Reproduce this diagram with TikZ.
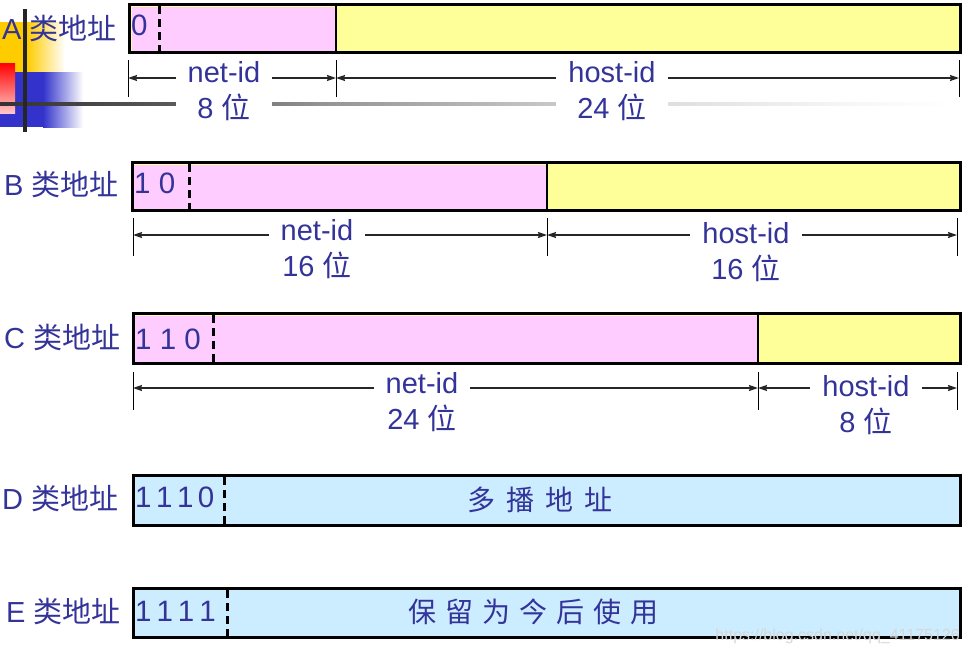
\documentclass[tikz,border=0pt]{standalone}
\usepackage{fontspec}
\setmainfont{Liberation Sans}
\newfontfamily\cjk{Noto Sans CJK SC}
\usetikzlibrary{arrows.meta}
\definecolor{tc}{RGB}{51,51,153}
\definecolor{pinkf}{RGB}{255,204,255}
\definecolor{yellf}{RGB}{255,255,153}
\definecolor{bluef}{RGB}{204,236,255}
\definecolor{gold}{RGB}{255,204,0}
\definecolor{deco}{RGB}{51,51,204}
\definecolor{wm}{RGB}{215,215,215}
\pgfdeclarehorizontalshading{grayfade}{100bp}{color(0bp)=(black!80); color(25bp)=(black!80); color(34bp)=(black!65); color(42bp)=(black!42); color(54bp)=(black!22); color(60bp)=(black!13); color(69bp)=(black!4); color(75bp)=(white); color(100bp)=(white)}
\tikzset{
  frame/.style={draw=black, line width=3pt},
  splitline/.style={draw=black, line width=1.8pt},
  dashline/.style={draw=black, line width=3pt, dash pattern=on 8pt off 5pt},
  tickline/.style={draw=black, line width=1pt},
  dimline/.style={draw=black!85, line width=1.5pt, {Stealth[length=9pt,width=6pt,inset=1pt]}-{Stealth[length=9pt,width=6pt,inset=1pt]}},
  dimtxt/.style={fill=white, inner xsep=12pt, inner ysep=1pt, align=center, anchor=base, text=tc, font=\fontsize{29}{36}\selectfont},
  lbl/.style={anchor=base west, inner sep=0pt, text=tc, font=\fontsize{29}{35}\selectfont},
  boxtxt/.style={anchor=base west, inner sep=0pt, text=tc, font=\fontsize{29.5}{35}\selectfont},
  cjktxt/.style={anchor=center, inner sep=0pt, text=tc, font=\fontsize{28}{34}\selectfont\cjk}
}
\begin{document}
\begin{tikzpicture}[x=1pt,y=-1pt]
\useasboundingbox (0,0) rectangle (971,654);
% ---- slide decoration ----
\fill[gold] (0,22) rectangle (27,72);
\shade[left color=gold, right color=white] (27,22) rectangle (65,72);
\fill[deco] (0,72) rectangle (43,127);
\shade[left color=deco, right color=white] (43,72) rectangle (83,127);
\shade[top color=red, bottom color=red!22] (0,63) rectangle (15,113);
\shade[shading=grayfade] (0,102.3) rectangle (950,105.8);
\fill[black!85] (23.3,9) rectangle (26.7,132);
% ---- Row A ----
\fill[yellf] (129.5,4.5) rectangle (960.5,52.5);
\fill[pinkf] (131.5,6.5) rectangle (336,50.5);
\draw[splitline] (336,4.5) -- (336,52.5);
\draw[dashline] (159,6) -- (159,52);
\draw[frame] (129.5,4.5) rectangle (960.5,52.5);
\node[boxtxt] (a0) at (131,35) {0};
\node[lbl] (la) at (2,39.5) {A {\cjk 类地址}};
\coordinate (aL) at (128,78); \coordinate (aM) at (336,78); \coordinate (aR) at (959,78);
\draw[tickline] (128,60) -- (128,97);
\draw[tickline] (336,60) -- (336,97);
\draw[tickline] (959,60) -- (959,97);
\draw[dimline] (aL) -- (aM);
\draw[dimline] (aM) -- (aR);
\node[dimtxt] (anet) at (224,118) {net-id\\8 {\cjk 位}};
\node[dimtxt] (ahost) at (612,118) {host-id\\24 {\cjk 位}};
% ---- Row B ----
\fill[yellf] (132,162.5) rectangle (960.5,210.5);
\fill[pinkf] (134,164.5) rectangle (547,208.5);
\draw[splitline] (547,162.5) -- (547,210.5);
\draw[dashline] (189,164) -- (189,210);
\draw[frame] (132,162.5) rectangle (960.5,210.5);
\node[boxtxt] (b0) at (134,193) {1 0};
\node[lbl] (lb) at (4,195.5) {B {\cjk 类地址}};
\coordinate (bL) at (133,235); \coordinate (bM) at (547,235); \coordinate (bR) at (957,235);
\draw[tickline] (133,218) -- (133,256);
\draw[tickline] (547,218) -- (547,256);
\draw[tickline] (957,218) -- (957,256);
\draw[dimline] (bL) -- (bM);
\draw[dimline] (bM) -- (bR);
\node[dimtxt] (bnet) at (317,276) {net-id\\16 {\cjk 位}};
\node[dimtxt] (bhost) at (746,279) {host-id\\16 {\cjk 位}};
% ---- Row C ----
\fill[yellf] (133,313.5) rectangle (960.5,363.5);
\fill[pinkf] (135,315.5) rectangle (758,361.5);
\draw[splitline] (758,313.5) -- (758,363.5);
\draw[dashline] (213,315) -- (213,363);
\draw[frame] (133,313.5) rectangle (960.5,363.5);
\node[boxtxt] (c0) at (135,349) {1 1 0};
\node[lbl] (lc) at (4,348) {C {\cjk 类地址}};
\coordinate (cL) at (133,388); \coordinate (cM) at (758,388); \coordinate (cR) at (957,388);
\draw[tickline] (133,372) -- (133,410);
\draw[tickline] (758,372) -- (758,410);
\draw[tickline] (957,372) -- (957,410);
\draw[dimline] (cL) -- (cM);
\draw[dimline] (cM) -- (cR);
\node[dimtxt] (cnet) at (422,429) {net-id\\24 {\cjk 位}};
\node[dimtxt] (chost) at (866,432) {host-id\\8 {\cjk 位}};
% ---- Row D ----
\fill[bluef] (133,475.5) rectangle (960.5,525.5);
\draw[dashline] (224,477) -- (224,525);
\draw[frame] (133,475.5) rectangle (960.5,525.5);
\node[boxtxt] (d0) at (135,507) {1\kern4.5pt 1\kern4.5pt 1\kern4.5pt 0};
\node[cjktxt] (dtxt) at (540,500) {多\hspace{11pt}播\hspace{11pt}地\hspace{11pt}址};
\node[lbl] (ld) at (2,509) {D {\cjk 类地址}};
% ---- Row E ----
\fill[bluef] (133,588.5) rectangle (960.5,637.5);
\draw[dashline] (227,590) -- (227,637);
\draw[frame] (133,588.5) rectangle (960.5,637.5);
\node[boxtxt] (e0) at (135,621) {1\kern5pt 1\kern5pt 1\kern5pt 1};
\node[cjktxt] (etxt) at (533.5,611.5) {保\hspace{9pt}留\hspace{9pt}为\hspace{9pt}今\hspace{9pt}后\hspace{9pt}使\hspace{9pt}用};
\node[lbl] (le) at (6,622) {E {\cjk 类地址}};
% ---- watermark ----
\node[anchor=base east, inner sep=0pt, text=wm, font=\fontsize{16}{18}\selectfont] (wmk) at (960,640) {https://blog.csdn.net/qq\_41175126};
\end{tikzpicture}
\end{document}
